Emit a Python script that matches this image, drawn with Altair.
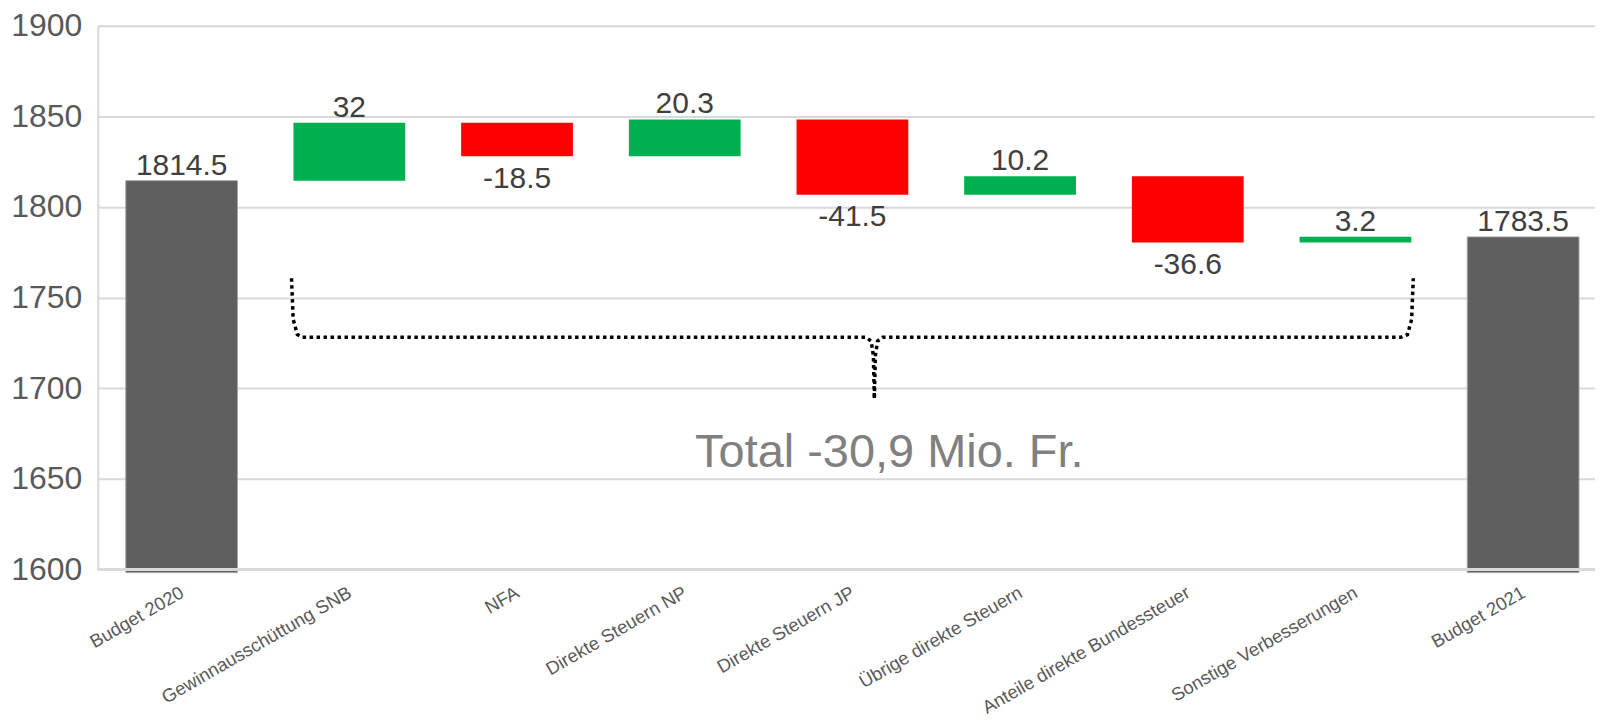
import json
import altair as alt
import pandas as pd

# ---------------- data ----------------
categories = [
    "Budget 2020",
    "Gewinnausschüttung SNB",
    "NFA",
    "Direkte Steuern NP",
    "Direkte Steuern JP",
    "Übrige direkte Steuern",
    "Anteile direkte Bundessteuer",
    "Sonstige Verbesserungen",
    "Budget 2021",
]
values = [1814.5, 32, -18.5, 20.3, -41.5, 10.2, -36.6, 3.2, 1783.5]
kinds = ["total", "delta", "delta", "delta", "delta", "delta", "delta", "delta", "total"]
y_ticks = [1600, 1650, 1700, 1750, 1800, 1850, 1900]

# dotted brace below the changes (category-index / value units)
brace_left_x = [0.655, 0.665, 0.69, 0.72, 4.08, 4.112, 4.125, 4.131]
brace_left_y = [1760.7, 1738.0, 1729.6, 1728.1, 1728.1, 1726.0, 1718.0, 1694.6]
brace_right_x = [4.131, 4.137, 4.15, 4.18, 7.27, 7.31, 7.335, 7.345]
brace_right_y = [1694.6, 1718.0, 1726.0, 1728.1, 1728.1, 1729.6, 1738.0, 1760.7]

total_text = "Total -30,9 Mio. Fr."

# ---------------- tables ----------------
rows = []
running = 0.0
for i, (c, v, k) in enumerate(zip(categories, values, kinds)):
    if k == "total":
        start, end = y_ticks[0], v
        running = v
        kind = "total"
    else:
        start, end = running, running + v
        running = end
        kind = "up" if v >= 0 else "down"
    rows.append(dict(idx=i, cat=c, start=start, end=end, kind=kind, label=f"{v:g}"))
df = pd.DataFrame(rows)

brace = pd.DataFrame(
    [dict(bx=x, by=y, part="L", seq=j) for j, (x, y) in enumerate(zip(brace_left_x, brace_left_y))]
    + [dict(bx=x, by=y, part="R", seq=j) for j, (x, y) in enumerate(zip(brace_right_x, brace_right_y))]
)

# ---------------- scales / axes ----------------
FONT = "Liberation Sans"
W, H = 1500, 545
step = 168
xscale = alt.Scale(domain=[-0.5, -0.5 + W / step], nice=False, zero=False)
yscale = alt.Scale(domain=[y_ticks[0], y_ticks[-1]], nice=False, zero=False)

label_expr = json.dumps(categories) + "[datum.value]"
xaxis = alt.Axis(
    values=list(range(len(categories))),
    labelExpr=label_expr,
    title=None,
    grid=False,
    ticks=False,
    domain=False,
    labelAngle=-30,
    labelAlign="right",
    labelBaseline="middle",
    labelFontSize=18.5,
    labelColor="#595959",
    labelFont=FONT,
    labelPadding=21,
    labelLimit=0,
    labelOverlap=False,
    labelBound=False,
)
yaxis = alt.Axis(
    values=y_ticks,
    title=None,
    grid=True,
    gridColor="#D9D9D9",
    gridWidth=2,
    ticks=False,
    domain=True,
    domainColor="#D9D9D9",
    domainWidth=2,
    labelFontSize=32,
    labelColor="#595959",
    labelFont=FONT,
    labelPadding=16,
    format="d",
)


def X(field):
    return alt.X(field, type="quantitative", scale=xscale, axis=xaxis)


def Y(field):
    return alt.Y(field, type="quantitative", scale=yscale, axis=yaxis)


base = alt.Chart(df)

color_enc = alt.Color(
    "kind:N",
    scale=alt.Scale(domain=["total", "up", "down"], range=["#5F5F5F", "#00B050", "#FF0000"]),
    legend=None,
)

total_bars = (
    base.transform_filter("datum.kind == 'total'")
    .transform_calculate(xl="datum.idx - 0.3333", xr="datum.idx + 0.3333")
    .mark_bar(stroke="#A6A6A6", strokeWidth=1, y2Offset=3)
    .encode(x=X("xl"), x2="xr:Q", y=Y("end"), y2="start:Q", color=color_enc)
)

delta_bars = (
    base.transform_filter("datum.kind != 'total'")
    .transform_calculate(xl="datum.idx - 0.3333", xr="datum.idx + 0.3333")
    .mark_bar()
    .encode(x=X("xl"), x2="xr:Q", y=Y("end"), y2="start:Q", color=color_enc)
)

base_rule = alt.Chart(df).mark_rule(color="#D9D9D9", strokeWidth=2).encode(y=alt.datum(y_ticks[0]))

text_up = (
    base.transform_filter("datum.kind != 'down'")
    .mark_text(dy=-6, baseline="alphabetic", fontSize=30, font=FONT, color="#404040")
    .encode(x=X("idx"), y=Y("end"), text="label:N")
)
text_down = (
    base.transform_filter("datum.kind == 'down'")
    .mark_text(dy=31.5, baseline="alphabetic", fontSize=30, font=FONT, color="#404040")
    .encode(x=X("idx"), y=Y("end"), text="label:N")
)

brace_line = (
    alt.Chart(brace)
    .mark_line(color="black", strokeWidth=3.5, strokeDash=[3.5, 3.5], strokeCap="butt")
    .encode(x=X("bx"), y=Y("by"), detail="part:N", order="seq:Q")
)

total_label = (
    alt.Chart(pd.DataFrame({"t": [total_text]}))
    .mark_text(fontSize=47, font=FONT, color="#808080", baseline="alphabetic", align="center")
    .encode(x=alt.datum(4.22), y=alt.datum(1656.5), text="t:N")
)

chart = (
    alt.layer(total_bars, delta_bars, base_rule, text_up, text_down, brace_line, total_label)
    .properties(
        width=W,
        height=H,
        autosize=alt.AutoSizeParams(type="none"),
        padding={"left": 90, "top": 17, "right": 0, "bottom": 147},
    )
    .configure_view(strokeWidth=0)
    .configure(font=FONT)
)

chart.save("out.html", embed_options={"renderer": "svg", "actions": False})
